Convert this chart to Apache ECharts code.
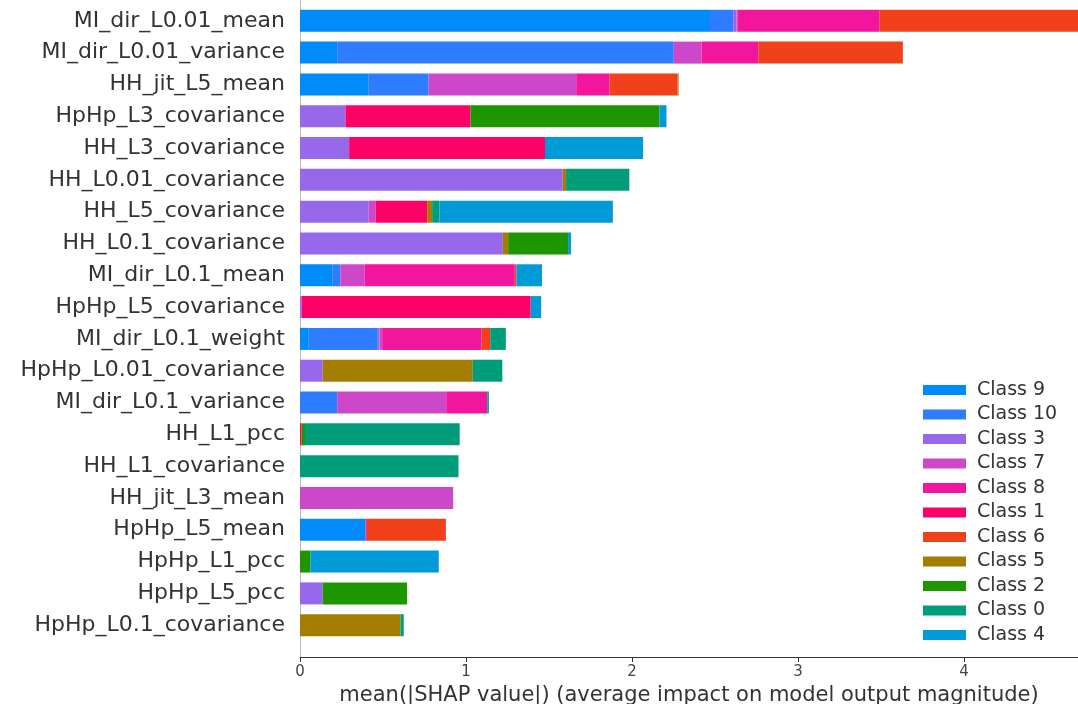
<!DOCTYPE html>
<html>
<head>
<meta charset="utf-8">
<script src="https://cdn.jsdelivr.net/npm/echarts@6/dist/echarts.min.js"></script>
<style>
html,body{margin:0;padding:0;background:#fff;}
#chart{width:1078px;height:704px;}
</style>
</head>
<body>
<div id="chart"></div>
<script>
// Feature names, top to bottom
const features = [
  'MI_dir_L0.01_mean','MI_dir_L0.01_variance','HH_jit_L5_mean','HpHp_L3_covariance',
  'HH_L3_covariance','HH_L0.01_covariance','HH_L5_covariance','HH_L0.1_covariance',
  'MI_dir_L0.1_mean','HpHp_L5_covariance','MI_dir_L0.1_weight','HpHp_L0.01_covariance',
  'MI_dir_L0.1_variance','HH_L1_pcc','HH_L1_covariance','HH_jit_L3_mean',
  'HpHp_L5_mean','HpHp_L1_pcc','HpHp_L5_pcc','HpHp_L0.1_covariance'
];
// Class names in stacking / legend order
const classNames = ['Class 9','Class 10','Class 3','Class 7','Class 8','Class 1','Class 6','Class 5','Class 2','Class 0','Class 4'];
const classColors = ['#008bfb','#2e7cff','#9868ea','#cc48c9','#f2169f','#ff0066','#f0411a','#a37d00','#1f9600','#009d7b','#009ad6'];

const class9  = [2.47,0.224,0.414,0,0,0,0,0,0.194,0,0.053,0,0,0,0,0,0.395,0,0,0];
const class10 = [0.14,2.028,0.361,0,0,0,0,0,0.05,0,0.416,0,0.224,0,0,0,0,0,0,0];
const class3  = [0.02,0,0,0.274,0.296,1.583,0.414,1.222,0,0.01,0.01,0.137,0,0,0,0,0,0,0.137,0];
const class7  = [0.005,0.167,0.889,0,0,0,0.042,0,0.146,0,0.016,0,0.657,0,0,0.923,0,0,0,0];
const class8  = [0.857,0.342,0.201,0,0,0,0,0,0.904,0,0.599,0,0.247,0,0,0,0.008,0,0,0];
const class1  = [0,0,0,0.753,1.18,0,0.31,0,0,1.38,0,0,0,0.01,0,0,0,0,0,0];
const class6  = [1.22,0.871,0.41,0,0,0,0,0,0.01,0,0.052,0,0,0,0,0,0.476,0,0,0];
const class5  = [0,0,0.006,0,0,0.02,0.03,0.032,0,0,0,0.904,0,0,0,0,0,0,0,0.605];
const class2  = [0,0,0,1.139,0,0,0,0.361,0,0,0,0,0,0.02,0,0,0,0.063,0.508,0];
const class0  = [0,0,0,0,0,0.381,0.044,0,0,0,0.094,0.178,0.01,0.932,0.955,0,0,0,0,0.02];
const class4  = [0,0,0,0.042,0.591,0,1.045,0.018,0.154,0.063,0,0,0,0,0,0,0,0.773,0,0];

const xTicks = [0,1,2,3,4];
const xAxisTitle = 'mean(|SHAP value|) (average impact on model output magnitude)';

const classValues = [class9,class10,class3,class7,class8,class1,class6,class5,class2,class0,class4];

// padding categories above and below (matplotlib ylim margin)
const cats = [''].concat(features).concat(['']);

const series = classNames.map((name, i) => ({
  name: name,
  type: 'bar',
  stack: 'total',
  barWidth: 22,
  itemStyle: { color: classColors[i] },
  emphasis: { disabled: true },
  data: [null].concat(classValues[i]).concat([null])
}));

const chart = echarts.init(document.getElementById('chart'), null, {renderer:'canvas'});
chart.setOption({
  animation: false,
  backgroundColor: '#ffffff',
  textStyle: { fontFamily: 'DejaVu Sans' },
  grid: { left: 300, right: 0, top: -11, bottom: 47, containLabel: false, outerBoundsMode: 'none' },
  legend: {
    orient: 'vertical',
    left: 918,
    top: 375,
    itemWidth: 43,
    itemHeight: 10,
    itemGap: 4.5,
    icon: 'rect',
    data: classNames,
    textStyle: { fontFamily: 'DejaVu Sans', fontSize: 19, color: '#333333', lineHeight: 20, padding: [0,0,0,6] }
  },
  xAxis: {
    type: 'value',
    min: xTicks[0],
    max: 4.687,
    interval: 1,
    name: xAxisTitle,
    nameLocation: 'middle',
    nameGap: 23,
    nameTextStyle: { fontFamily: 'DejaVu Sans', fontSize: 21, color: '#333333' },
    axisLine: { show: true, lineStyle: { color: '#333333', width: 1 } },
    axisTick: { show: true, length: 5, lineStyle: { color: '#333333' } },
    axisLabel: { fontFamily: 'DejaVu Sans', fontSize: 15, color: '#444444', margin: 8, showMaxLabel: false,
      formatter: v => xTicks.indexOf(v) >= 0 ? String(v) : '' },
    splitLine: { show: false }
  },
  yAxis: {
    type: 'category',
    data: cats,
    inverse: true,
    boundaryGap: false,
    axisLine: { show: true, lineStyle: { color: '#bbbbbb', width: 1 } },
    axisTick: { show: false },
    axisLabel: { fontFamily: 'DejaVu Sans', fontSize: 22, color: '#333333', margin: 15, interval: 0 },
    splitLine: { show: false }
  },
  series: series
});
</script>
</body>
</html>
